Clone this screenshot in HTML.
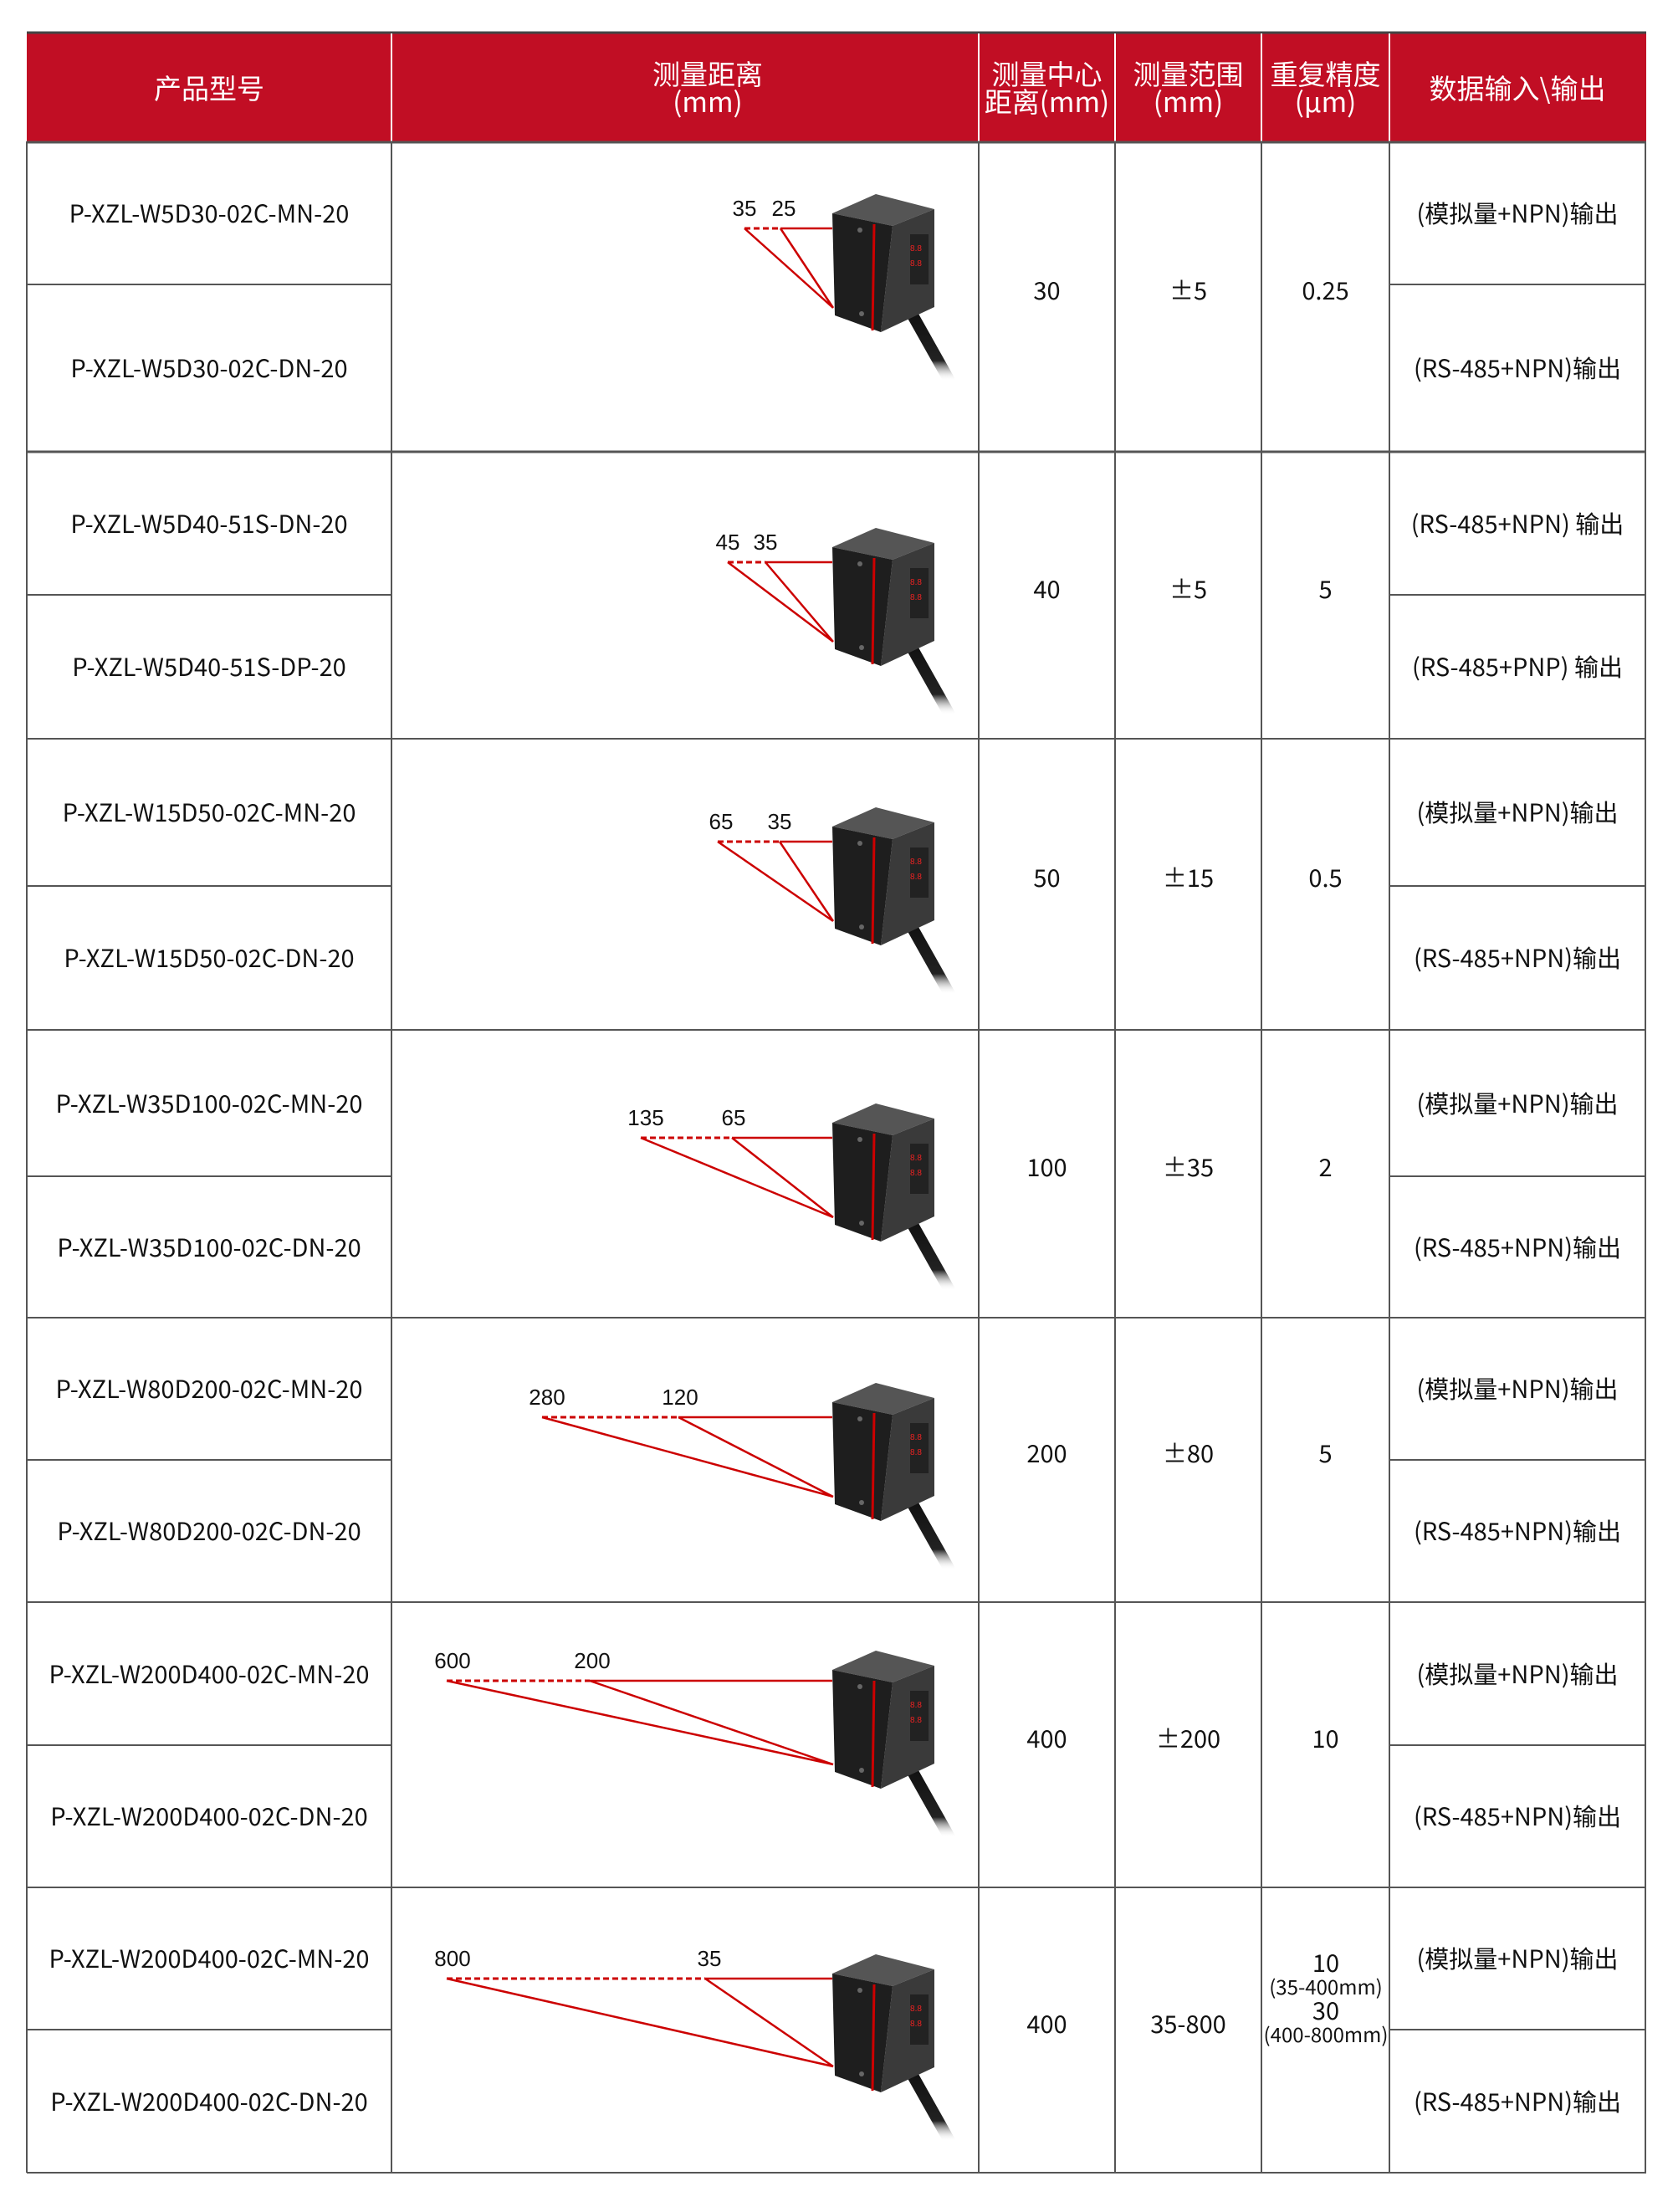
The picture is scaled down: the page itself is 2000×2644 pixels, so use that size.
<!DOCTYPE html>
<html><head><meta charset="utf-8"><style>
body{margin:0;background:#fff;}
#w{position:relative;width:2000px;height:2644px;overflow:hidden;font-family:"Liberation Sans","Noto Sans CJK SC",sans-serif;}
.c{position:absolute;display:flex;align-items:center;justify-content:center;text-align:center;color:#111;font-size:29px;line-height:1.1;font-family:"Noto Sans CJK SC","Liberation Sans",sans-serif;box-sizing:border-box;}
.h{color:#fff;font-size:33px;line-height:1.0;}
.m{padding-bottom:16px;}
</style></head><body><div id="w">
<svg width="2000" height="2644" style="position:absolute;left:0;top:0">
<defs>
<linearGradient id="cab" x1="0" y1="0" x2="0" y2="1"><stop offset="0" stop-color="#111"/><stop offset="0.7" stop-color="#222"/><stop offset="1" stop-color="#fff" stop-opacity="0"/></linearGradient>
<g id="sen">
<path d="M1090 375 L1135 455" stroke="url(#cab)" stroke-width="14" stroke-linecap="round" fill="none"/>
<polygon points="995,255 1047,232 1117,250 1067,270" fill="#555"/>
<polygon points="1067,270 1117,250 1117,367 1053,397" fill="#3a3a3a"/>
<polygon points="995,255 1067,270 1053,397 998,377" fill="#1e1e1e"/>
<line x1="1045" y1="268" x2="1043" y2="395" stroke="#c00" stroke-width="3"/>
<rect x="1088" y="280" width="22" height="60" fill="#222"/>
<text x="1095" y="300" fill="#e22" font-size="10">8.8</text>
<text x="1095" y="318" fill="#e22" font-size="10">8.8</text>
<circle cx="1028" cy="275" r="3" fill="#666"/><circle cx="1030" cy="375" r="3" fill="#666"/>
</g>
</defs>
<rect x="32" y="39" width="1936" height="130" fill="#c10e24"/>
<line x1="32" y1="39" x2="1968" y2="39" stroke="#444" stroke-width="3"/>
<g stroke="#fff" stroke-width="2">
<line x1="468" y1="40" x2="468" y2="169"/><line x1="1170" y1="40" x2="1170" y2="169"/><line x1="1333" y1="40" x2="1333" y2="169"/><line x1="1508" y1="40" x2="1508" y2="169"/><line x1="1661" y1="40" x2="1661" y2="169"/>
</g>
<line x1="32" y1="170" x2="1968" y2="170" stroke="#555" stroke-width="3"/>
<g stroke="#555" stroke-width="2" fill="none">
<line x1="32" y1="169" x2="32" y2="2597"/><line x1="1967" y1="169" x2="1967" y2="2597"/>
<line x1="468" y1="169" x2="468" y2="2597"/><line x1="1170" y1="169" x2="1170" y2="2597"/><line x1="1333" y1="169" x2="1333" y2="2597"/><line x1="1508" y1="169" x2="1508" y2="2597"/><line x1="1661" y1="169" x2="1661" y2="2597"/>
<line x1="32" y1="540" x2="1968" y2="540" stroke-width="3"/><line x1="32" y1="883" x2="1968" y2="883"/><line x1="32" y1="1231" x2="1968" y2="1231"/><line x1="32" y1="1575" x2="1968" y2="1575"/><line x1="32" y1="1915" x2="1968" y2="1915"/><line x1="32" y1="2256" x2="1968" y2="2256"/><line x1="32" y1="2597" x2="1968" y2="2597"/>
<line x1="32" y1="340" x2="468" y2="340"/><line x1="1661" y1="340" x2="1968" y2="340"/>
<line x1="32" y1="711" x2="468" y2="711"/><line x1="1661" y1="711" x2="1968" y2="711"/>
<line x1="32" y1="1059" x2="468" y2="1059"/><line x1="1661" y1="1059" x2="1968" y2="1059"/>
<line x1="32" y1="1406" x2="468" y2="1406"/><line x1="1661" y1="1406" x2="1968" y2="1406"/>
<line x1="32" y1="1745" x2="468" y2="1745"/><line x1="1661" y1="1745" x2="1968" y2="1745"/>
<line x1="32" y1="2086" x2="468" y2="2086"/><line x1="1661" y1="2086" x2="1968" y2="2086"/>
<line x1="32" y1="2426" x2="468" y2="2426"/><line x1="1661" y1="2426" x2="1968" y2="2426"/>
</g>
<g font-family="Liberation Sans, sans-serif" font-size="26" fill="#111" text-anchor="middle">
<g><use href="#sen"/><path d="M890 273 H933" stroke="#c00" stroke-width="3" stroke-dasharray="7,4"/><path d="M933 273 H995 M890 273 L996 368 M933 273 L996 368" stroke="#c00" stroke-width="2.5" fill="none"/><text x="890" y="258">35</text><text x="937" y="258">25</text></g>
<g transform="translate(0,399)"><use href="#sen"/><path d="M870 273 H915" stroke="#c00" stroke-width="3" stroke-dasharray="7,4"/><path d="M915 273 H995 M870 273 L996 368 M915 273 L996 368" stroke="#c00" stroke-width="2.5" fill="none"/><text x="870" y="258">45</text><text x="915" y="258">35</text></g>
<g transform="translate(0,733)"><use href="#sen"/><path d="M858 273 H932" stroke="#c00" stroke-width="3" stroke-dasharray="7,4"/><path d="M932 273 H995 M858 273 L996 368 M932 273 L996 368" stroke="#c00" stroke-width="2.5" fill="none"/><text x="862" y="258">65</text><text x="932" y="258">35</text></g>
<g transform="translate(0,1087)"><use href="#sen"/><path d="M766 273 H875" stroke="#c00" stroke-width="3" stroke-dasharray="7,4"/><path d="M875 273 H995 M766 273 L996 368 M875 273 L996 368" stroke="#c00" stroke-width="2.5" fill="none"/><text x="772" y="258">135</text><text x="877" y="258">65</text></g>
<g transform="translate(0,1421)"><use href="#sen"/><path d="M648 273 H811" stroke="#c00" stroke-width="3" stroke-dasharray="7,4"/><path d="M811 273 H995 M648 273 L996 368 M811 273 L996 368" stroke="#c00" stroke-width="2.5" fill="none"/><text x="654" y="258">280</text><text x="813" y="258">120</text></g>
<g transform="translate(0,1741)"><use href="#sen"/><path d="M534 268 H705" stroke="#c00" stroke-width="3" stroke-dasharray="7,4"/><path d="M705 268 H995 M534 268 L996 368 M705 268 L996 368" stroke="#c00" stroke-width="2.5" fill="none"/><text x="541" y="253">600</text><text x="708" y="253">200</text></g>
<g transform="translate(0,2104)"><use href="#sen"/><path d="M534 261 H843" stroke="#c00" stroke-width="3" stroke-dasharray="7,4"/><path d="M843 261 H995 M534 261 L996 366 M843 261 L996 366" stroke="#c00" stroke-width="2.5" fill="none"/><text x="541" y="246">800</text><text x="848" y="246">35</text></g>
</g>
</svg>
<div class="c h" style="left:32px;top:39px;width:436px;height:130px">产品型号</div>
<div class="c h" style="left:495px;top:39px;width:702px;height:130px">测量距离<br>(mm)</div>
<div class="c h" style="left:1170px;top:39px;width:163px;height:130px">测量中心<br>距离(mm)</div>
<div class="c h" style="left:1333px;top:39px;width:175px;height:130px">测量范围<br>(mm)</div>
<div class="c h" style="left:1508px;top:39px;width:153px;height:130px">重复精度<br>(μm)</div>
<div class="c h" style="left:1661px;top:39px;width:306px;height:130px">数据输入\输出</div>

<div class="c" style="left:32px;top:170px;width:436px;height:170px">P-XZL-W5D30-02C-MN-20</div>
<div class="c" style="left:32px;top:340px;width:436px;height:200px">P-XZL-W5D30-02C-DN-20</div>
<div class="c" style="left:32px;top:540px;width:436px;height:171px">P-XZL-W5D40-51S-DN-20</div>
<div class="c" style="left:32px;top:711px;width:436px;height:172px">P-XZL-W5D40-51S-DP-20</div>
<div class="c" style="left:32px;top:883px;width:436px;height:176px">P-XZL-W15D50-02C-MN-20</div>
<div class="c" style="left:32px;top:1059px;width:436px;height:172px">P-XZL-W15D50-02C-DN-20</div>
<div class="c" style="left:32px;top:1231px;width:436px;height:175px">P-XZL-W35D100-02C-MN-20</div>
<div class="c" style="left:32px;top:1406px;width:436px;height:169px">P-XZL-W35D100-02C-DN-20</div>
<div class="c" style="left:32px;top:1575px;width:436px;height:170px">P-XZL-W80D200-02C-MN-20</div>
<div class="c" style="left:32px;top:1745px;width:436px;height:170px">P-XZL-W80D200-02C-DN-20</div>
<div class="c" style="left:32px;top:1915px;width:436px;height:171px">P-XZL-W200D400-02C-MN-20</div>
<div class="c" style="left:32px;top:2086px;width:436px;height:170px">P-XZL-W200D400-02C-DN-20</div>
<div class="c" style="left:32px;top:2256px;width:436px;height:170px">P-XZL-W200D400-02C-MN-20</div>
<div class="c" style="left:32px;top:2426px;width:436px;height:171px">P-XZL-W200D400-02C-DN-20</div>

<div class="c" style="left:1661px;top:170px;width:306px;height:170px">(模拟量+NPN)输出</div>
<div class="c" style="left:1661px;top:340px;width:306px;height:200px">(RS-485+NPN)输出</div>
<div class="c" style="left:1661px;top:540px;width:306px;height:171px">(RS-485+NPN) 输出</div>
<div class="c" style="left:1661px;top:711px;width:306px;height:172px">(RS-485+PNP) 输出</div>
<div class="c" style="left:1661px;top:883px;width:306px;height:176px">(模拟量+NPN)输出</div>
<div class="c" style="left:1661px;top:1059px;width:306px;height:172px">(RS-485+NPN)输出</div>
<div class="c" style="left:1661px;top:1231px;width:306px;height:175px">(模拟量+NPN)输出</div>
<div class="c" style="left:1661px;top:1406px;width:306px;height:169px">(RS-485+NPN)输出</div>
<div class="c" style="left:1661px;top:1575px;width:306px;height:170px">(模拟量+NPN)输出</div>
<div class="c" style="left:1661px;top:1745px;width:306px;height:170px">(RS-485+NPN)输出</div>
<div class="c" style="left:1661px;top:1915px;width:306px;height:171px">(模拟量+NPN)输出</div>
<div class="c" style="left:1661px;top:2086px;width:306px;height:170px">(RS-485+NPN)输出</div>
<div class="c" style="left:1661px;top:2256px;width:306px;height:170px">(模拟量+NPN)输出</div>
<div class="c" style="left:1661px;top:2426px;width:306px;height:171px">(RS-485+NPN)输出</div>

<div class="c m" style="left:1170px;top:170px;width:163px;height:370px">30</div>
<div class="c m" style="left:1333px;top:170px;width:175px;height:370px">±5</div>
<div class="c m" style="left:1508px;top:170px;width:153px;height:370px">0.25</div>
<div class="c m" style="left:1170px;top:540px;width:163px;height:343px">40</div>
<div class="c m" style="left:1333px;top:540px;width:175px;height:343px">±5</div>
<div class="c m" style="left:1508px;top:540px;width:153px;height:343px">5</div>
<div class="c m" style="left:1170px;top:883px;width:163px;height:348px">50</div>
<div class="c m" style="left:1333px;top:883px;width:175px;height:348px">±15</div>
<div class="c m" style="left:1508px;top:883px;width:153px;height:348px">0.5</div>
<div class="c m" style="left:1170px;top:1231px;width:163px;height:344px">100</div>
<div class="c m" style="left:1333px;top:1231px;width:175px;height:344px">±35</div>
<div class="c m" style="left:1508px;top:1231px;width:153px;height:344px">2</div>
<div class="c m" style="left:1170px;top:1575px;width:163px;height:340px">200</div>
<div class="c m" style="left:1333px;top:1575px;width:175px;height:340px">±80</div>
<div class="c m" style="left:1508px;top:1575px;width:153px;height:340px">5</div>
<div class="c m" style="left:1170px;top:1915px;width:163px;height:341px">400</div>
<div class="c m" style="left:1333px;top:1915px;width:175px;height:341px">±200</div>
<div class="c m" style="left:1508px;top:1915px;width:153px;height:341px">10</div>
<div class="c m" style="left:1170px;top:2256px;width:163px;height:341px">400</div>
<div class="c m" style="left:1333px;top:2256px;width:175px;height:341px">35-800</div>
<div class="c" style="left:1500px;top:2322px;width:170px;height:130px;flex-direction:column;line-height:1.08"><span style="font-size:29px">10</span><span style="font-size:24px">(35-400mm)</span><span style="font-size:29px">30</span><span style="font-size:24px">(400-800mm)</span></div>
</div></body></html>
